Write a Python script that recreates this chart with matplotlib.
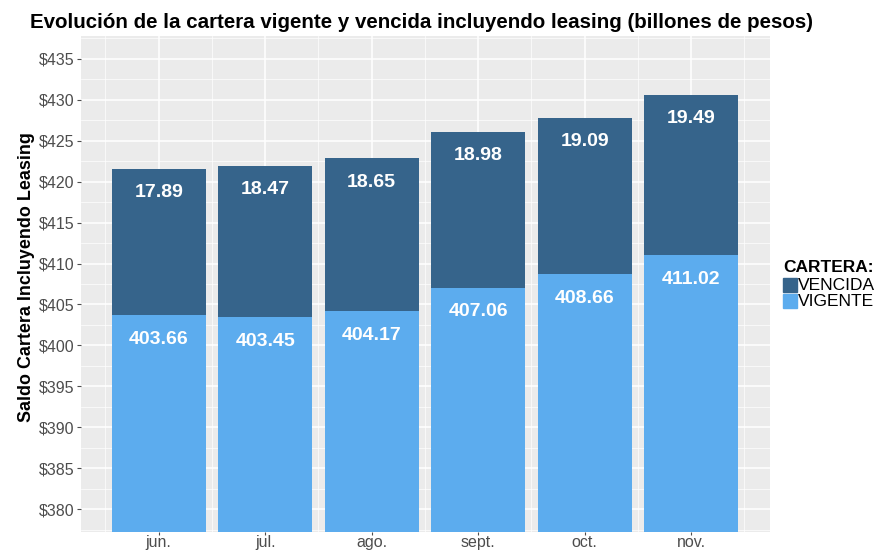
import matplotlib.pyplot as plt
import numpy as np

meses = ["jun.", "jul.", "ago.", "sept.", "oct.", "nov."]
vigente = [403.66, 403.45, 404.17, 407.06, 408.66, 411.02]
vencida = [17.89, 18.47, 18.65, 18.98, 19.09, 19.49]

plt.rcParams['font.family'] = ['Liberation Sans', 'DejaVu Sans']

fig = plt.figure(figsize=(8.8, 5.51), dpi=100)
ax = fig.add_axes([81 / 880, 1 - 532 / 551, (770 - 81) / 880, (532 - 36) / 551])

x = np.arange(len(meses))
ax.bar(x, vigente, width=0.88, color="#5CACEE", zorder=3)
ax.bar(x, vencida, width=0.88, bottom=vigente, color="#36648B", zorder=3)

for i in range(len(meses)):
    ax.annotate(f"{vigente[i]:.2f}", (x[i], vigente[i]), xytext=(0, -17.5),
                textcoords="offset points", ha="center", va="center",
                color="white", fontsize=14, fontweight="bold", zorder=4)
    top = vigente[i] + vencida[i]
    ax.annotate(f"{vencida[i]:.2f}", (x[i], top), xytext=(0, -17),
                textcoords="offset points", ha="center", va="center",
                color="white", fontsize=14, fontweight="bold", zorder=4)

ax.set_xlim(-0.73, 5.74)
ax.set_ylim(377.25, 437.75)
ax.set_facecolor("#EBEBEB")
for s in ax.spines.values():
    s.set_visible(False)

yt = np.arange(380, 436, 5)
ax.set_yticks(yt)
ax.set_yticklabels([f"${v}" for v in yt])
ax.set_yticks(np.arange(377.5, 437.6, 5), minor=True)
ax.set_xticks(x)
ax.set_xticklabels(meses)
ax.set_xticks(np.concatenate([[-0.5], x + 0.5]), minor=True)
ax.grid(which="major", color="white", linewidth=1.1, zorder=0)
ax.grid(which="minor", color="white", linewidth=0.5, zorder=0)
ax.tick_params(which="major", length=3, color="#4D4D4D", labelcolor="#4D4D4D",
               labelsize=11.5, pad=2)
ax.tick_params(axis="x", which="major", length=2, pad=0.5)
ax.tick_params(which="minor", length=0)

# etiqueta del eje y
fig.text(27 / 880, 1 - 277 / 551, "Saldo Cartera Incluyendo Leasing", rotation=90,
         fontsize=12.9, fontweight="bold", ha="center", va="center")
fig.text(30 / 880, 1 - 22 / 551,
         "Evolución de la cartera vigente y vencida incluyendo leasing (billones de pesos)",
         fontsize=14.8, fontweight="bold", va="center", ha="left")

# leyenda
fig.text(783 / 880, 1 - 268 / 551, "CARTERA:", fontsize=12.5, fontweight="bold", va="center")
fig.patches.append(plt.Rectangle((783 / 880, 1 - 292 / 551), 14 / 880, 14 / 551,
                                 transform=fig.transFigure, color="#36648B"))
fig.patches.append(plt.Rectangle((783 / 880, 1 - 308 / 551), 14 / 880, 14 / 551,
                                 transform=fig.transFigure, color="#5CACEE"))
fig.text(798 / 880, 1 - 285 / 551, "VENCIDA", fontsize=12.5, va="center")
fig.text(798 / 880, 1 - 301 / 551, "VIGENTE", fontsize=12.5, va="center")

fig.savefig("out.png", dpi=100)
